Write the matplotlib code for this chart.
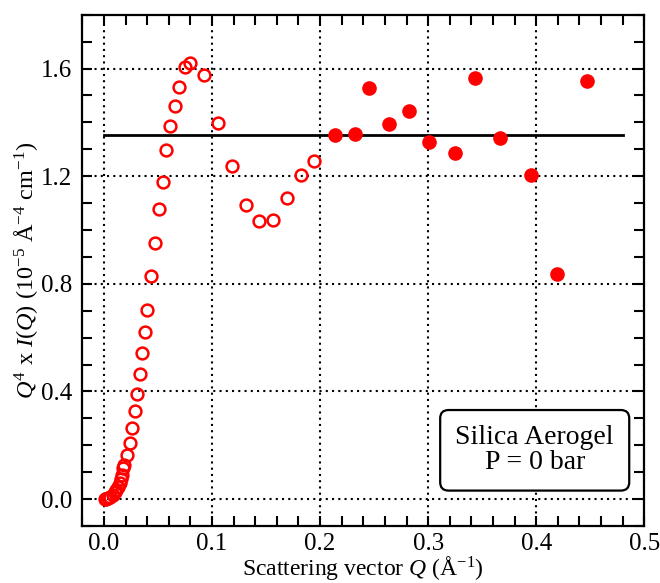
import numpy as np
import matplotlib
matplotlib.use('Agg')
import matplotlib.pyplot as plt
from matplotlib.ticker import MultipleLocator

plt.rcParams['font.family'] = ['Liberation Serif', 'DejaVu Serif']
plt.rcParams['mathtext.fontset'] = 'custom'
plt.rcParams['mathtext.rm'] = 'Liberation Serif'
plt.rcParams['mathtext.it'] = 'Liberation Serif:italic'

# open circles (low Q)
q_open = [0.001, 0.002, 0.004, 0.006, 0.008, 0.010, 0.0115, 0.013, 0.0145,
          0.0155, 0.0165, 0.0176, 0.0188, 0.0213, 0.0238, 0.0256, 0.0287,
          0.0309, 0.033, 0.0355, 0.038, 0.0401, 0.0432, 0.0475, 0.0506,
          0.0543, 0.0577, 0.0611, 0.0654, 0.0691, 0.075, 0.0796, 0.0922,
          0.1056, 0.1182, 0.1312, 0.1438, 0.1568, 0.1694, 0.1821, 0.1947]
y_open = [0.001, 0.002, 0.004, 0.008, 0.015, 0.025, 0.035, 0.045, 0.06,
          0.075, 0.09, 0.114, 0.128, 0.163, 0.21, 0.264, 0.326,
          0.391, 0.466, 0.541, 0.619, 0.704, 0.828, 0.953, 1.077,
          1.179, 1.297, 1.388, 1.462, 1.532, 1.606, 1.620, 1.577,
          1.396, 1.237, 1.093, 1.033, 1.037, 1.119, 1.206, 1.258]

# filled circles (high Q)
q_fill = [0.2139, 0.2327, 0.2454, 0.2639, 0.2824, 0.3006, 0.325, 0.343,
          0.3667, 0.3954, 0.4188, 0.4469]
y_fill = [1.353, 1.358, 1.526, 1.393, 1.442, 1.326, 1.286, 1.564,
          1.341, 1.205, 0.837, 1.554]

# Porod plateau
q_line = [0.0, 0.48]
y_line = [1.352, 1.352]

fig = plt.figure(figsize=(6.6, 5.83), dpi=100)
ax = fig.add_axes([0.1247, 0.0978, 0.8515, 0.877])

ax.plot(q_line, y_line, color='black', linewidth=2, zorder=2)
ax.plot(q_open, y_open, 'o', markersize=8.5, markerfacecolor='none',
        markeredgecolor='red', markeredgewidth=1.8, zorder=3)
ax.plot(q_fill, y_fill, 'o', markersize=9.5, color='red', zorder=3)

ax.set_xlim(-0.02, 0.5)
ax.set_ylim(-0.1, 1.8)
ax.xaxis.set_minor_locator(MultipleLocator(0.02))
ax.yaxis.set_minor_locator(MultipleLocator(0.1))
ax.set_xticks([0.0, 0.1, 0.2, 0.3, 0.4, 0.5])
ax.set_xticklabels(['0.0', '0.1', '0.2', '0.3', '0.4', '0.5'])
ax.set_yticks([0.0, 0.4, 0.8, 1.2, 1.6])
ax.set_yticklabels(['0.0', '0.4', '0.8', '1.2', '1.6'])

ax.grid(True, which='major', color='black', linestyle=(0, (1, 2)), linewidth=1.5)
ax.tick_params(which='both', direction='in', top=True, right=True,
               length=7, width=1.5, labelsize=18)
ax.tick_params(axis='x', pad=5)
ax.tick_params(axis='y', pad=7)
for s in ax.spines.values():
    s.set_linewidth(1.6)

ax.set_xlabel(r'Scattering vector $Q$ ($\mathrm{\AA}^{-1}$)', fontsize=17, labelpad=-1)
ax.set_ylabel(r'$Q^4$ x $I$($Q$) (10$^{-5}$ Å$^{-4}$ cm$^{-1}$)', fontsize=17.5, labelpad=1)

ax.text(0.805, 0.148, 'Silica Aerogel\nP = 0 bar', transform=ax.transAxes,
        ha='center', va='center', fontsize=20, linespacing=1.0,
        bbox=dict(boxstyle='round,pad=0.55,rounding_size=0.3', facecolor='white',
                  edgecolor='black', linewidth=1.6), zorder=5)

fig.savefig('out.png', dpi=100)
